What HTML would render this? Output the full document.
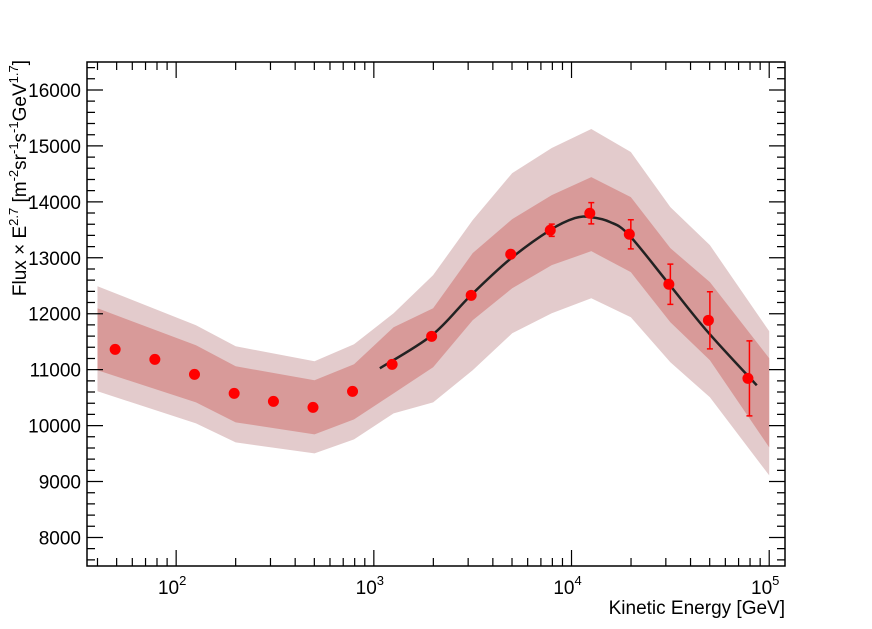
<!DOCTYPE html>
<html><head><meta charset="utf-8"><style>
body{margin:0;background:#fff}
svg{display:block;font-family:"Liberation Sans",sans-serif}
</style></head><body>
<svg id="c" width="872" height="629"></svg>
<script>
const energies=[50,79.4,126,200,316,501,794,1259,1995,3162,5012,7943,12589,19953,31623,50119,79433];
const fluxVals=[11363,11184,10916,10576,10433,10326,10612,11095,11596,12329,13063,13492,13796,13420,12526,11882,10844];
const fluxErrs=[0,0,0,0,0,0,0,0,0,0,0,110,190,260,360,510,670];
const bandE=[40,126,200,501,794,1259,1995,3162,5012,7943,12589,19953,31623,50119,100000];
const outerHi=[12492,11794,11418,11150,11454,12009,12689,13673,14514,14962,15302,14890,13906,13226,11687];
const innerHi=[12098,11436,11060,10810,11096,11758,12098,13083,13691,14121,14443,14085,13172,12564,11204];
const innerLo=[10989,10416,10058,9843,10112,10577,11043,11884,12456,12868,13118,12743,11848,11168,9611];
const outerLo=[10613,10040,9700,9503,9754,10219,10416,10989,11651,12009,12277,11937,11132,10506,9110];
const fitE=[1073,1966,3064,4884,7786,10398,12440,15700,19560,30870,49030,86520];
const fitV=[11025,11615,12313,12975,13494,13709,13727,13638,13405,12546,11669,10720];
const yTicks=[8000,9000,10000,11000,12000,13000,14000,15000,16000];
const xTicks=[2,3,4,5];

const L=87,R=785,T=62,B=566;
const xMin=Math.log10(35.4),xMax=Math.log10(120200),yMin=7490,yMax=16500;
const X=e=>L+(Math.log10(e)-xMin)/(xMax-xMin)*(R-L);
const Y=v=>B-(v-yMin)/(yMax-yMin)*(B-T);
const svg=document.getElementById('c');
const NS='http://www.w3.org/2000/svg';
function mk(tag,attrs,parent){const el=document.createElementNS(NS,tag);for(const k in attrs)el.setAttribute(k,attrs[k]);(parent||svg).appendChild(el);return el;}

const clip=mk('clipPath',{id:'pc'});mk('rect',{x:L,y:T,width:R-L,height:B-T},clip);
const g=mk('g',{'clip-path':'url(#pc)'});
function band(hi,lo,color,name){
  let pts=bandE.map((e,i)=>X(e)+','+Y(hi[i]));
  for(let i=bandE.length-1;i>=0;i--)pts.push(X(bandE[i])+','+Y(lo[i]));
  const p=mk('polygon',{points:pts.join(' '),fill:color},g);
  
  
}
band(outerHi,outerLo,'#e3cbcc','outer-band');
band(innerHi,innerLo,'#d89a99','inner-band');

// smooth Catmull-Rom curve through fit samples
const P=fitE.map((e,i)=>[X(e),Y(fitV[i])]);
let fd=`M${P[0][0]},${P[0][1]}`;
for(let i=0;i<P.length-1;i++){
  const p0=P[Math.max(0,i-1)],p1=P[i],p2=P[i+1],p3=P[Math.min(P.length-1,i+2)];
  const c1=[p1[0]+(p2[0]-p0[0])/6,p1[1]+(p2[1]-p0[1])/6];
  const c2=[p2[0]-(p3[0]-p1[0])/6,p2[1]-(p3[1]-p1[1])/6];
  fd+=`C${c1[0]},${c1[1]} ${c2[0]},${c2[1]} ${p2[0]},${p2[1]}`;
}
const fit=mk('path',{d:fd,fill:'none',stroke:'#222',"stroke-width":2.5,"stroke-linejoin":"round"},g);



energies.forEach((e,i)=>{
  const x=X(e);
  if(fluxErrs[i]>0){
    const y1=Y(fluxVals[i]+fluxErrs[i]),y2=Y(fluxVals[i]-fluxErrs[i]);
    const eb=mk('path',{d:`M${x},${y1}V${y2}M${x-3},${y1}h6M${x-3},${y2}h6`,stroke:'#f00','stroke-width':1.5,fill:'none'});
    
    
  }
  const c=mk('circle',{cx:x-1.5,cy:Y(fluxVals[i]),r:5.5,fill:'#f00'});
  
  
});

const fr=mk('rect',{x:L,y:T,width:R-L,height:B-T,fill:'none',stroke:'#000','stroke-width':1.5});


let d='';
for(let v=7600;v<=16400;v+=200){const y=Y(v);const major=v%1000===0;const l=major?16:8;d+=`M${L},${y}h${l}M${R},${y}h${-l}`;}
for(let p=1;p<=5;p++)for(let m=1;m<=9;m++){const e=m*Math.pow(10,p);if(e<35.4||e>120200)continue;const x=X(e);const l=m===1?16:8;d+=`M${x},${B}v${-l}M${x},${T}v${l}`;}
const tk=mk('path',{d,stroke:'#000','stroke-width':1.2,fill:'none'});


yTicks.forEach(v=>{const t=mk('text',{x:L-6,y:Y(v)+7,'text-anchor':'end','font-size':19});t.textContent=v;
  
  });
xTicks.forEach(p=>{const t=mk('text',{x:X(Math.pow(10,p))-4,y:B+28,'text-anchor':'middle','font-size':19});
  t.innerHTML='10<tspan dy="-9" font-size="13">'+p+'</tspan>';
  
  });
const xt=mk('text',{x:R,y:B+48,'text-anchor':'end','font-size':19});xt.textContent='Kinetic Energy [GeV]';


const yt=mk('text',{transform:`translate(26,${T-2}) rotate(-90)`,'text-anchor':'end','font-size':19});
yt.innerHTML='Flux × E<tspan dy="-8" font-size="13">2.7</tspan><tspan dy="8"> [m</tspan><tspan dy="-8" font-size="13">-2</tspan><tspan dy="8">sr</tspan><tspan dy="-8" font-size="13">-1</tspan><tspan dy="8">s</tspan><tspan dy="-8" font-size="13">-1</tspan><tspan dy="8">GeV</tspan><tspan dy="-8" font-size="13">1.7</tspan><tspan dy="8">]</tspan>';


</script>
</body></html>
